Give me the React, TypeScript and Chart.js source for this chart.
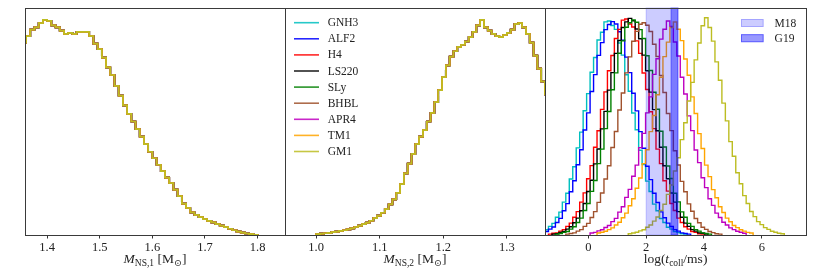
import React, { useEffect, useRef } from "react";
import { Chart, registerables } from "chart.js";
Chart.register(...registerables);

// ---------------- DATA ----------------
const EOS_NAMES = ["GNH3", "ALF2", "H4", "LS220", "SLy", "BHBL", "APR4", "TM1", "GM1"];
const EOS_COLORS = ["#00bfbf", "#0000ff", "#ff0000", "#000000", "#008000", "#a0522d", "#bf00bf", "#ffa500", "#bcbd22"];

// Panel 1: M_NS,1 histogram (normalised, peak ~100)
const M1_START = 1.352;
const M1_BIN = 0.008;
const M1_VALUES = [
  89, 92, 95, 96, 98, 99.5, 99, 97, 96, 94.5, 93, 93.5, 93, 94, 94, 94, 92, 88.5, 86, 82,
  77.5, 74, 69, 64.5, 60, 56, 52.5, 49, 45.5, 42, 38.5, 35.5, 32.5, 29.5, 26.5, 24, 21, 18, 14.5, 12.5,
  10.5, 9.3, 8.3, 7.3, 6.5, 5.8, 5, 4.3, 3.6, 2.9, 2.2, 1.6, 1.1, 0.7, 0.4, 0.1,
];

// Panel 2: M_NS,2 histogram
const M2_START = 1.0;
const M2_BIN = 0.006;
const M2_VALUES = [
  0.4, 0.6, 0.8, 1.0, 1.3, 1.6, 1.9, 2.2, 2.6, 3.1, 3.7, 4.3, 5.0, 5.7, 6.6, 7.8, 9.0, 10.3, 12.0, 14.2,
  16.5, 19.5, 23.5, 28.5, 33, 37.5, 42, 45.5, 48.5, 52.5, 56.5, 61.5, 67, 73, 78.5, 82.5, 85, 87, 88, 89.5,
  91.5, 94, 97, 99.5, 96, 94.5, 93, 92, 91.5, 92.5, 93.5, 95, 97.5, 98, 96, 93, 89, 83, 77, 71, 65,
];

// Panel 3: log(t_coll/ms) histograms on a common bin grid (first bin index, values)
const T_START = -1.5;
const T_BIN = 0.12;
const GNH3_T0 = 0;
const GNH3_T = [2.4, 4.0, 5.4, 8.2, 10.6, 15.2, 19.3, 25.9, 31.6, 40.3, 47.6, 57.5, 65.4, 75.3, 82.1, 90.2, 93.8, 98.6, 99.0, 96.9, 95.1, 88.8, 83.2, 74.1, 66.5, 56.4, 48.7, 39.2, 32.6, 24.9, 20.1, 14.3, 11.2, 7.6, 5.8, 3.6, 2.7, 1.6, 1.1, 0.6, 0.4];
const ALF2_T0 = 0;
const ALF2_T = [1.6, 2.7, 3.7, 5.8, 7.7, 11.2, 14.5, 20.0, 25.1, 32.5, 39.4, 48.6, 56.5, 66.4, 74.2, 83.1, 89.0, 95.0, 97.4, 98.7, 97.6, 94.0, 90.1, 82.3, 75.1, 65.6, 57.4, 47.8, 40.1, 31.8, 25.6, 19.3, 15.0, 10.7, 8.0, 5.5, 3.9, 2.5, 1.8, 1.0, 0.7, 0.4];
const H4_T0 = 1;
const H4_T = [0.4, 0.8, 1.0, 1.8, 2.5, 4.0, 5.5, 8.2, 10.8, 15.2, 19.5, 26.0, 32.1, 40.6, 48.2, 58.1, 66.2, 76.0, 83.0, 90.9, 95.1, 99.4, 99.9, 97.6, 96.2, 89.8, 84.0, 74.9, 67.3, 57.0, 49.2, 39.7, 33.0, 25.1, 20.3, 14.6, 11.3, 7.8, 5.8, 3.8, 2.7, 1.6, 1.2, 0.6, 0.4];
const LS220_T0 = 2;
const LS220_T = [0.4, 0.6, 1.2, 1.6, 2.7, 3.8, 5.7, 7.8, 11.2, 14.6, 20.1, 25.3, 32.9, 39.8, 49.1, 57.2, 67.0, 75.1, 84.0, 90.0, 96.0, 98.6, 100.2, 99.1, 95.3, 90.8, 83.2, 76.0, 66.1, 58.0, 48.2, 40.6, 32.0, 26.0, 19.4, 15.2, 10.8, 8.2, 5.5, 4.0, 2.5, 1.8, 1.0, 0.8, 0.4];
const SLY_T0 = 3;
const SLY_T = [0.4, 0.7, 1.2, 1.6, 2.7, 3.8, 5.8, 7.8, 11.3, 14.6, 20.2, 25.2, 33.0, 39.7, 49.2, 57.1, 67.2, 75.0, 84.1, 89.8, 96.1, 98.2, 99.5, 98.4, 95.0, 90.9, 82.9, 76.1, 66.0, 58.2, 48.0, 40.7, 31.9, 26.1, 19.3, 15.3, 10.7, 8.2, 5.4, 4.0, 2.5, 1.8, 1.0, 0.7, 0.4];
const BHBL_T0 = 6;
const BHBL_T = [0.4, 0.7, 1.0, 1.8, 2.5, 4.0, 5.4, 8.1, 10.8, 15.1, 19.4, 25.9, 32.0, 40.5, 47.9, 57.8, 65.7, 75.0, 82.4, 89.6, 94.2, 97.5, 98.2, 97.0, 94.1, 88.2, 82.6, 73.8, 65.9, 56.2, 48.3, 39.0, 32.4, 24.8, 20.0, 14.4, 11.0, 7.6, 5.7, 3.6, 2.6, 1.6, 1.1, 0.6, 0.4];
const APR4_T0 = 13;
const APR4_T = [0.9, 1.2, 1.9, 2.4, 3.5, 4.4, 6.2, 7.7, 10.6, 13.1, 17.4, 21.1, 27.2, 32.3, 40.4, 47.0, 56.5, 63.9, 74.3, 81.5, 90.6, 95.2, 99.0, 96.5, 89.3, 82.8, 73.0, 65.2, 55.1, 48.3, 39.3, 33.5, 26.5, 21.9, 16.8, 13.7, 10.1, 8.1, 5.9, 4.6, 3.3, 2.5, 1.7, 1.3, 0.8];
const TM1_T0 = 15;
const TM1_T = [0.9, 1.3, 1.7, 2.5, 3.3, 4.6, 5.9, 8.0, 10.1, 13.5, 16.8, 21.6, 26.4, 33.0, 39.4, 47.8, 55.3, 64.9, 73.0, 82.5, 89.2, 96.0, 98.5, 95.2, 89.9, 81.4, 73.9, 63.9, 56.2, 46.9, 40.0, 32.3, 27.0, 21.0, 17.2, 13.1, 10.4, 7.8, 6.1, 4.4, 3.4, 2.4, 1.8, 1.2, 0.9];
const GM1_T0 = 24;
const GM1_T = [0.6, 0.9, 1.3, 1.9, 2.4, 3.6, 4.6, 6.4, 8.3, 11.3, 14.2, 18.8, 23.1, 29.6, 35.7, 44.1, 51.9, 62.0, 70.6, 81.0, 88.8, 96.8, 100.5, 96.0, 89.7, 80.1, 71.6, 61.0, 52.8, 43.2, 36.4, 28.8, 23.7, 18.2, 14.6, 10.9, 8.5, 6.2, 4.8, 3.4, 2.6, 1.7, 1.3, 0.8, 0.6];

const T_SERIES = [
  [GNH3_T0, GNH3_T], [ALF2_T0, ALF2_T], [H4_T0, H4_T], [LS220_T0, LS220_T], [SLY_T0, SLY_T],
  [BHBL_T0, BHBL_T], [APR4_T0, APR4_T], [TM1_T0, TM1_T], [GM1_T0, GM1_T],
] as [number, number[]][];

// Shaded observational ranges in log(t_coll/ms)
const BAND_NAMES = ["M18", "G19"];
const BAND_RANGES = [[2.0, 3.1], [2.86, 3.1]];
const BAND_ALPHAS = [0.2, 0.4];

const X1_TICKS = [1.4, 1.5, 1.6, 1.7, 1.8];
const X2_TICKS = [1.0, 1.1, 1.2, 1.3];
const X3_TICKS = [0, 2, 4, 6];

// ---------------- HELPERS ----------------
const SERIF = '"Liberation Serif", "DejaVu Serif", serif';
const TEXT_COLOR = "#222";

function stepPoints(start: number, bin: number, vals: number[]) {
  const pts: { x: number; y: number }[] = [{ x: start, y: 0 }];
  vals.forEach((v, i) => {
    pts.push({ x: start + i * bin, y: v });
    pts.push({ x: start + (i + 1) * bin, y: v });
  });
  pts.push({ x: start + vals.length * bin, y: 0 });
  return pts;
}

type Part = { t: string; italic?: boolean; sub?: boolean };

function drawTitle(ctx: CanvasRenderingContext2D, cx: number, baseline: number, parts: Part[]) {
  const big = 13.5;
  const small = 9.5;
  const fonts = parts.map((p) => `${p.italic ? "italic " : ""}${p.sub ? small : big}px ${SERIF}`);
  let total = 0;
  const widths = parts.map((p, i) => {
    ctx.font = fonts[i];
    const w = ctx.measureText(p.t).width;
    total += w;
    return w;
  });
  let x = cx - total / 2;
  ctx.fillStyle = TEXT_COLOR;
  ctx.textBaseline = "alphabetic";
  ctx.textAlign = "left";
  parts.forEach((p, i) => {
    ctx.font = fonts[i];
    ctx.fillText(p.t, x, baseline + (p.sub ? 3 : 0));
    x += widths[i];
  });
}

function framePlugin(title: Part[]) {
  return {
    id: "frameTitle",
    afterDraw(chart: any) {
      const { ctx, chartArea } = chart;
      const { left, right, top, bottom } = chartArea;
      ctx.save();
      ctx.strokeStyle = "#3a3a3a";
      ctx.lineWidth = 1;
      ctx.strokeRect(Math.round(left) + 0.5, Math.round(top) + 0.5, Math.round(right - left), Math.round(bottom - top));
      drawTitle(ctx, (left + right) / 2, bottom + 28, title);
      ctx.restore();
    },
  };
}

const legendPlugin = {
  id: "eosLegend",
  afterDraw(chart: any) {
    const { ctx, chartArea } = chart;
    ctx.save();
    EOS_NAMES.forEach((name, i) => {
      const y = chartArea.top + 14.7 + 16.1 * i;
      ctx.strokeStyle = EOS_COLORS[i];
      ctx.globalAlpha = 0.85;
      ctx.lineWidth = 1.6;
      ctx.beginPath();
      ctx.moveTo(chartArea.left + 9, y);
      ctx.lineTo(chartArea.left + 34, y);
      ctx.stroke();
      ctx.globalAlpha = 1;
      ctx.fillStyle = TEXT_COLOR;
      ctx.font = `11.5px ${SERIF}`;
      ctx.textBaseline = "middle";
      ctx.textAlign = "left";
      ctx.fillText(name, chartArea.left + 42.7, y + 0.5);
    });
    ctx.restore();
  },
};

const bandPlugin = {
  id: "bands",
  afterDatasetsDraw(chart: any) {
    const { ctx, chartArea, scales } = chart;
    const xs = scales.x;
    ctx.save();
    BAND_RANGES.forEach((r, i) => {
      const x0 = xs.getPixelForValue(r[0]);
      const x1 = xs.getPixelForValue(r[1]);
      ctx.fillStyle = `rgba(0,0,255,${BAND_ALPHAS[i]})`;
      ctx.fillRect(x0, chartArea.top, x1 - x0, chartArea.bottom - chartArea.top);
      ctx.strokeStyle = `rgba(0,0,255,${BAND_ALPHAS[i]})`;
      ctx.lineWidth = 1;
      ctx.strokeRect(x0, chartArea.top, x1 - x0, chartArea.bottom - chartArea.top);
    });
    BAND_NAMES.forEach((name, i) => {
      const y = chartArea.top + 11 + 15.2 * i;
      const lx = chartArea.right - 65;
      ctx.fillStyle = `rgba(0,0,255,${BAND_ALPHAS[i]})`;
      ctx.fillRect(lx, y, 22.6, 8);
      ctx.strokeStyle = `rgba(0,0,255,${BAND_ALPHAS[i]})`;
      ctx.strokeRect(lx + 0.5, y + 0.5, 21.6, 7);
      ctx.fillStyle = TEXT_COLOR;
      ctx.font = `11.5px ${SERIF}`;
      ctx.textBaseline = "middle";
      ctx.textAlign = "left";
      ctx.fillText(name, lx + 33.6, y + 4.5);
    });
    ctx.restore();
  },
};

function makeConfig(opts: {
  datasets: any[];
  min: number;
  max: number;
  ticks: number[];
  fmt: (v: number) => string;
  padLeft: number;
  padRight: number;
  lineWidth: number;
  plugins: any[];
}) {
  return {
    type: "line" as const,
    data: { datasets: opts.datasets },
    options: {
      animation: false as const,
      responsive: false,
      devicePixelRatio: 1,
      layout: { padding: { left: opts.padLeft, right: opts.padRight, top: 8, bottom: 0 } },
      plugins: { legend: { display: false }, tooltip: { enabled: false } },
      elements: { point: { radius: 0 }, line: { borderWidth: opts.lineWidth, tension: 0 } },
      scales: {
        x: {
          type: "linear" as const,
          min: opts.min,
          max: opts.max,
          afterBuildTicks: (s: any) => {
            s.ticks = opts.ticks.map((v) => ({ value: v }));
          },
          afterFit: (s: any) => {
            s.height = 42;
          },
          grid: { drawOnChartArea: false, drawTicks: true, tickLength: 3.5, color: "#333" },
          border: { display: false },
          ticks: {
            font: { family: SERIF, size: 12.5 },
            color: TEXT_COLOR,
            padding: 2,
            maxRotation: 0,
            autoSkip: false,
            callback: (v: any) => opts.fmt(Number(v)),
          },
        },
        y: { display: false, min: 0, max: 105 },
      },
    },
    plugins: opts.plugins,
  };
}

const N = EOS_NAMES.length;

function massDatasets(start: number, bin: number, vals: number[]) {
  return EOS_NAMES.map((name, i) => ({
    label: name,
    data: stepPoints(start, bin, vals),
    borderColor: EOS_COLORS[i],
    backgroundColor: "transparent",
    fill: false,
    order: N - i,
  }));
}

export default function App() {
  const c1 = useRef<HTMLCanvasElement>(null);
  const c2 = useRef<HTMLCanvasElement>(null);
  const c3 = useRef<HTMLCanvasElement>(null);

  useEffect(() => {
    const charts: Chart[] = [];
    charts.push(
      new Chart(
        c1.current!,
        makeConfig({
          datasets: massDatasets(M1_START, M1_BIN, M1_VALUES),
          min: 1.358,
          max: 1.852,
          ticks: X1_TICKS,
          fmt: (v) => v.toFixed(1),
          padLeft: 25,
          padRight: 830 - 285,
          lineWidth: 1.7,
          plugins: [framePlugin([{ t: "M", italic: true }, { t: "NS,1", sub: true }, { t: " [M" }, { t: "⊙", sub: true }, { t: "]" }])],
        }) as any
      )
    );
    charts.push(
      new Chart(
        c2.current!,
        makeConfig({
          datasets: massDatasets(M2_START, M2_BIN, M2_VALUES),
          min: 0.951,
          max: 1.36,
          ticks: X2_TICKS,
          fmt: (v) => v.toFixed(1),
          padLeft: 285,
          padRight: 830 - 545,
          lineWidth: 1.7,
          plugins: [framePlugin([{ t: "M", italic: true }, { t: "NS,2", sub: true }, { t: " [M" }, { t: "⊙", sub: true }, { t: "]" }]), legendPlugin],
        }) as any
      )
    );
    charts.push(
      new Chart(
        c3.current!,
        makeConfig({
          datasets: T_SERIES.map(([k0, vals], i) => ({
            label: EOS_NAMES[i],
            data: stepPoints(T_START + k0 * T_BIN, T_BIN, vals),
            borderColor: EOS_COLORS[i],
            backgroundColor: "transparent",
            fill: false,
            order: N - i,
          })),
          min: -1.5,
          max: 7.53,
          ticks: X3_TICKS,
          fmt: (v) => String(v),
          padLeft: 545,
          padRight: 830 - 806,
          lineWidth: 1.4,
          plugins: [framePlugin([{ t: "log(" }, { t: "t", italic: true }, { t: "coll", sub: true }, { t: "/ms)" }]), bandPlugin],
        }) as any
      )
    );
    return () => charts.forEach((c) => c.destroy());
  }, []);

  const style: React.CSSProperties = { position: "absolute", left: 0, top: 0, width: 830, height: 277 };
  return (
    <div style={{ position: "fixed", left: 0, top: 0, width: 830, height: 277, background: "#fff" }}>
      <canvas ref={c1} width={830} height={277} style={style} />
      <canvas ref={c2} width={830} height={277} style={style} />
      <canvas ref={c3} width={830} height={277} style={style} />
    </div>
  );
}
